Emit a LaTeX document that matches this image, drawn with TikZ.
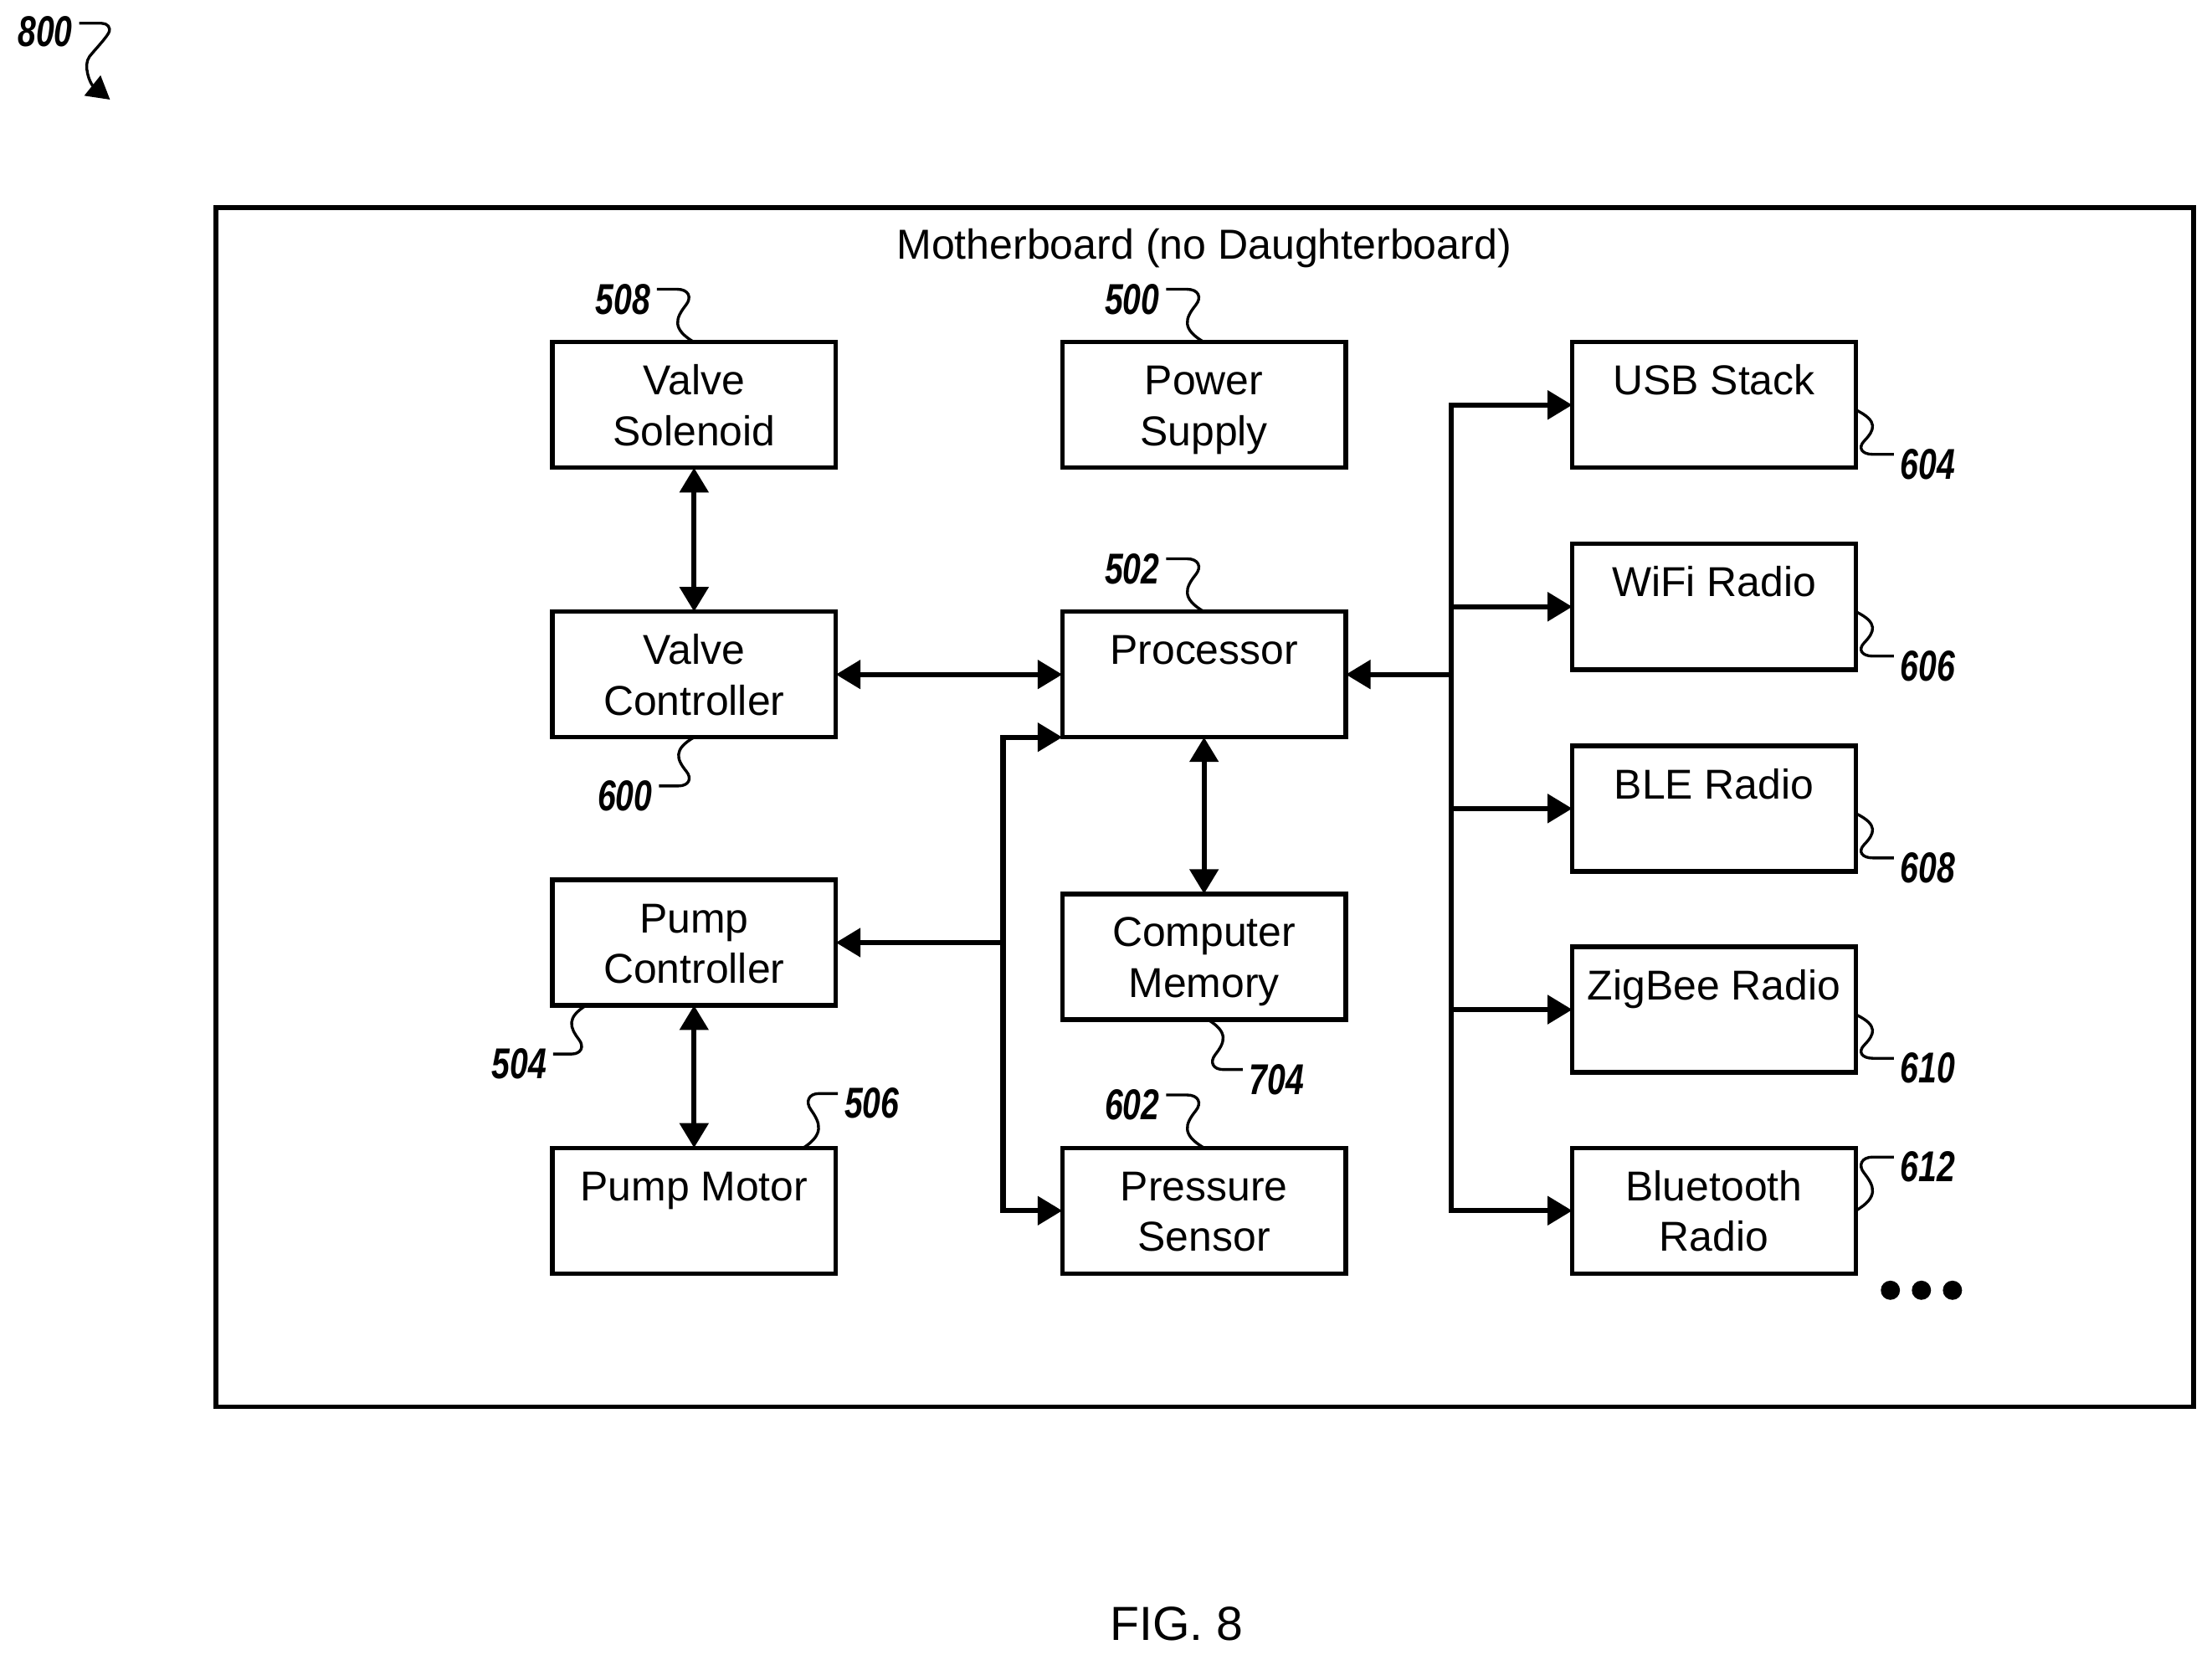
\documentclass[tikz,border=0pt]{standalone}
\usepackage{fontspec}
\setmainfont{Liberation Sans}
\newfontfamily\refnumfont[FakeStretch=.76]{Liberation Sans}
\usetikzlibrary{calc,arrows.meta}
\tikzset{
	blockbox/.style={draw, line width=0.032cm, minimum width=2.01cm, minimum height=0.89cm, inner sep=0, outer sep=0, align=center, font=\fontsize{8.42}{10.2}\selectfont},
	plaintext/.style={inner sep=0, font=\fontsize{8.45}{10.2}\selectfont},
	refnum/.style={inner xsep=0.04cm, inner ysep=0, font=\fontsize{8.7}{10}\refnumfont\bfseries\itshape},
	leader/.style={line width=0.02cm},
	flow/.style={line width=0.036cm, -{Triangle[length=0.175cm, width=0.2cm]}},
	flowboth/.style={line width=0.036cm, {Triangle[length=0.175cm, width=0.2cm]}-{Triangle[length=0.175cm, width=0.2cm]}}
}
\def\boxline#1{\rule[-2pt]{0pt}{10.2pt}#1}
\def\refwire(#1)(#2){\draw[leader] let \p1=([yshift=0.07cm]#1), \p2=(#2), \n1={\x2-\x1}, \n2={\y2-\y1} in
	(\p1) -- ({\x1+0.55*\n1},{\y1}) .. controls ({\x1+0.85*\n1},{\y1}) and ({\x1+0.95*\n1},{\y1+0.15*\n2}) .. ({\x1+0.78*\n1},{\y1+0.3*\n2})
	.. controls ({\x1+0.5*\n1},{\y1+0.55*\n2}) and ({\x1+0.4*\n1},{\y1+0.75*\n2}) .. (\p2);}
\begin{document}
\begin{tikzpicture}
	\useasboundingbox (0, 0) rectangle (15.68, 11.764);
	
	%%%%% board %%%%%
	\node[draw, line width=0.034cm, minimum width=14.02cm, minimum height=8.5cm, inner sep=0, outer sep=0] (board) at (8.54, 6.044) {};
	\node[plaintext] (boardname) at (8.535, 10.004) {Motherboard (no Daughterboard)};
	
	\node[blockbox] (valvesol) at (4.92, 8.894) {\boxline{Valve}\\\boxline{Solenoid}};
	\node[blockbox] (valvectl) at (4.92, 6.984) {\boxline{Valve}\\\boxline{Controller}};
	\node[blockbox] (pumpctl) at (4.92, 5.084) {\boxline{Pump}\\\boxline{Controller}};
	\node[blockbox] (pumpmotor) at (4.92, 3.184) {\boxline{Pump Motor}\\\boxline{}};
	
	\node[blockbox] (power) at (8.535, 8.894) {\boxline{Power}\\\boxline{Supply}};
	\node[blockbox] (proc) at (8.535, 6.984) {\boxline{Processor}\\\boxline{}};
	\node[blockbox] (memory) at (8.535, 4.984) {\boxline{Computer}\\\boxline{Memory}};
	\node[blockbox] (pressure) at (8.535, 3.184) {\boxline{Pressure}\\\boxline{Sensor}};
	
	\node[blockbox] (usb) at (12.15, 8.894) {\boxline{USB Stack}\\\boxline{}};
	\node[blockbox] (wifi) at (12.15, 7.464) {\boxline{WiFi Radio}\\\boxline{}};
	\node[blockbox] (ble) at (12.15, 6.034) {\boxline{BLE Radio}\\\boxline{}};
	\node[blockbox] (zigbee) at (12.15, 4.609) {\boxline{ZigBee Radio}\\\boxline{}};
	\node[blockbox] (bluetooth) at (12.15, 3.184) {\boxline{Bluetooth}\\\boxline{Radio}};
	
	%%%%% connectors %%%%%
	\draw[flowboth] (valvesol) -- (valvectl);
	\draw[flowboth] (valvectl) -- (proc);
	\draw[flowboth] (proc) -- (memory);
	\draw[flowboth] (pumpctl) -- (pumpmotor);
	
	\coordinate (pumpjoin) at (7.11, 5.084);
	\draw[flow] (pumpjoin) -- (pumpctl.east);
	\draw[flow] (pumpjoin) |- (proc.south west);
	\draw[flow] (pumpjoin) |- (pressure.west);
	
	\coordinate (radiojoin) at (10.285, 6.984);
	\draw[flow] (radiojoin) -- (proc.east);
	\foreach \radio in {usb, wifi, ble, zigbee, bluetooth} {
		\draw[flow] (radiojoin) |- (\radio.west);
	}
	
	%%%%% reference numbers %%%%%
	\node[refnum] (n800) at (0.32, 11.539) {800};
	\node[refnum] (n508) at (4.415, 9.644) {508};
	\node[refnum] (n500) at (8.025, 9.644) {500};
	\node[refnum] (n502) at (8.025, 7.734) {502};
	\node[refnum] (n600) at (4.43, 6.124) {600};
	\node[refnum] (n504) at (3.68, 4.224) {504};
	\node[refnum] (n506) at (6.18, 3.944) {506};
	\node[refnum] (n602) at (8.025, 3.934) {602};
	\node[refnum] (n704) at (9.05, 4.114) {704};
	\node[refnum] (n604) at (13.665, 8.474) {604};
	\node[refnum] (n606) at (13.665, 7.044) {606};
	\node[refnum] (n608) at (13.665, 5.614) {608};
	\node[refnum] (n610) at (13.665, 4.194) {610};
	\node[refnum] (n612) at (13.665, 3.494) {612};
	
	\refwire(n508.east)(valvesol.north)
	\refwire(n500.east)(power.north)
	\refwire(n502.east)(proc.north)
	\refwire(n600.east)(valvectl.south)
	\refwire(n504.east)([xshift=0.24cm]pumpctl.south west)
	\refwire(n506.west)([xshift=-0.23cm]pumpmotor.north east)
	\refwire(n602.east)(pressure.north)
	\refwire(n704.west)([xshift=0.025cm]memory.south)
	\refwire(n604.west)([yshift=-0.035cm]usb.east)
	\refwire(n606.west)([yshift=-0.035cm]wifi.east)
	\refwire(n608.west)([yshift=-0.035cm]ble.east)
	\refwire(n610.west)([yshift=-0.035cm]zigbee.east)
	\refwire(n612.west)(bluetooth.east)
	
	\coordinate (arrow800) at (0.78, 11.058);
	\draw[leader, -{Triangle[length=0.16cm, width=0.18cm]}] ([yshift=0.06cm]n800.east) -- (0.72, 11.599) .. controls (0.76, 11.599) and (0.79, 11.57) .. (0.77, 11.53) .. controls (0.74, 11.48) and (0.68, 11.42) .. (0.635, 11.364) .. controls (0.585, 11.30) and (0.64, 11.17) .. (arrow800);
	
	\fill (13.4, 2.62) circle (0.068);
	\fill (13.62, 2.62) circle (0.068);
	\fill (13.84, 2.62) circle (0.068);
	
	\node[inner sep=0, font=\fontsize{9.65}{11}\selectfont] (figname) at (8.34, 0.254) {FIG. 8};
\end{tikzpicture}
\end{document}
